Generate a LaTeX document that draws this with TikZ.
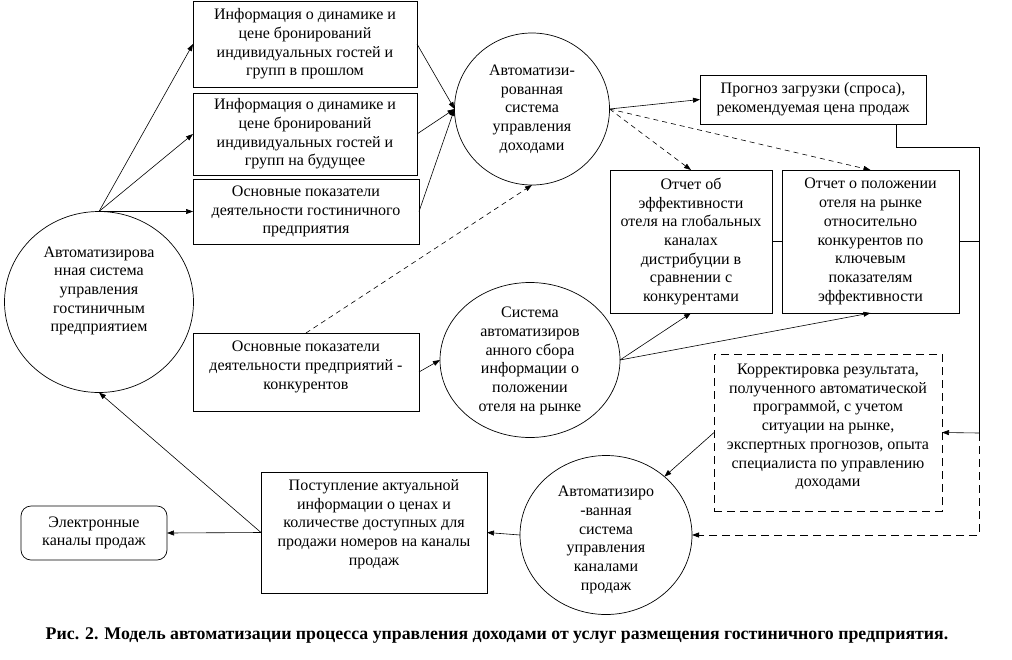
\documentclass[tikz,border=0pt]{standalone}
\usepackage{fontspec}
\setmainfont{Liberation Serif}
\usetikzlibrary{arrows.meta,shapes.geometric}

\begin{document}
\begin{tikzpicture}[x=1pt,y=1pt,yscale=-1,xscale=1,
  every node/.style={font=\fontsize{16pt}{18.7pt}\selectfont, align=center, inner sep=0pt, outer sep=0pt},
  box/.style={draw, line width=0.7pt},
  oval/.style={draw, ellipse, line width=0.7pt},
  arr/.style={line width=0.6pt, -{Triangle[length=7pt,width=5pt]}},
  dashthin/.style={dash pattern=on 5pt off 4pt},
  dashwide/.style={dash pattern=on 8pt off 5pt},
]
\useasboundingbox (0,0) rectangle (1012,659);

%Shape: Ellipse [hotel management system]
\node[oval, minimum width=189pt, minimum height=181pt] (c0) at (99,302) {};
\node (t0) at (99,291) {Автоматизирова\\нная система\\управления\\гостиничным\\предприятием};
%Shape: Ellipse [revenue management system]
\node[oval, minimum width=155pt, minimum height=152pt] (c1) at (532,109) {};
\node (t1) at (532,109) {Автоматизи-\\рованная\\система\\управления\\доходами};
%Shape: Ellipse [market data collection]
\node[oval, minimum width=180pt, minimum height=155pt] (c2) at (530,360) {};
\node (t2) at (530,361) {Система\\автоматизиров\\анного сбора\\информации о\\положении\\отеля на рынке};
%Shape: Ellipse [channel management system]
\node[oval, minimum width=172pt, minimum height=159pt] (c3) at (606,535) {};
\node (t3) at (606,540) {Автоматизиро\\-ванная\\система\\управления\\каналами\\продаж};

%Shape: Rectangle
\node[box, minimum width=224pt, minimum height=86pt] (b1) at (305,44) {Информация о динамике и\\цене бронирований\\индивидуальных гостей и\\групп в прошлом};
%Shape: Rectangle
\node[box, minimum width=224pt, minimum height=82pt] (b2) at (305,134) {Информация о динамике и\\цене бронирований\\индивидуальных гостей и\\групп на будущее};
%Shape: Rectangle
\node[box, minimum width=226pt, minimum height=65pt] (b3) at (306,211.5) {Основные показатели\\деятельности гостиничного\\предприятия};
%Shape: Rectangle
\node[box, minimum width=226pt, minimum height=78pt] (b4) at (306,372) {};
\node (t4) at (306,367) {Основные показатели\\деятельности предприятий -\\конкурентов};
%Shape: Rectangle
\node[box, minimum width=226pt, minimum height=49pt] (fc) at (813,99.5) {Прогноз загрузки (спроса),\\рекомендуемая цена продаж};
%Shape: Rectangle
\node[box, minimum width=162pt, minimum height=143pt] (o1) at (691,241.5) {Отчет об\\эффективности\\отеля на глобальных\\каналах\\дистрибуции в\\сравнении с\\конкурентами};
%Shape: Rectangle
\node[box, minimum width=177pt, minimum height=143pt] (o2) at (870.5,241.5) {Отчет о положении\\отеля на рынке\\относительно\\конкурентов по\\ключевым\\показателям\\эффективности};
%Shape: Rectangle [dashed]
\node[box, dashwide, line width=0.8pt, minimum width=228pt, minimum height=157pt] (kor) at (828,432.5) {};
\node (t5) at (828,427) {Корректировка результата,\\полученного автоматической\\программой, с учетом\\ситуации на рынке,\\экспертных прогнозов, опыта\\специалиста по управлению\\доходами};
%Shape: Rectangle
\node[box, minimum width=226pt, minimum height=121pt] (b5) at (374,532.5) {};
\node (t6) at (374,524) {Поступление актуальной\\информации о ценах и\\количестве доступных для\\продажи номеров на каналы\\продаж};
%Shape: Rounded Rectangle
\node[box, rounded corners=10pt, minimum width=146pt, minimum height=54pt] (b6) at (94,533) {Электронные\\каналы продаж};

%Straight Lines
\draw[arr] (c0.north) -- (b1.west);
\draw[arr] (c0.north) -- (b2.west);
\draw[arr] (c0.north) -- (b3.west);
\draw[arr] (b1.east) -- (c1.west);
\draw[arr] (b2.east) -- (c1.west);
\draw[arr] (b3.east) -- (c1.west);
\draw[arr] (c1.east) -- (fc.west);
\draw[arr, dashthin] (c1.east) -- (o1.north);
\draw[arr, dashthin] (c1.east) -- (o2.north);
\draw[arr, dashthin] (b4.north) -- (c1.south);
\draw[arr] (b4.east) -- (c2.west);
\draw[arr] (c2.east) -- (o1.south);
\draw[arr] (c2.east) -- (o2.south);

%Feedback line on the right
\coordinate (r1) at (979,147);
\coordinate (r2) at (979,433);
\coordinate (r3) at (979,535);
\draw[line width=0.7pt] (fc.south) -- ([xshift=-30pt]fc.south east) |- (r1) -- (r2);
\draw[line width=0.6pt] (o1.east) -- (o2.west);
\draw[line width=0.6pt] (o2.east) -- (o2.east -| r1);
\draw[arr] (r2) -- (kor.east);
\draw[arr, dashwide, line width=0.8pt] (r2) -- (r3) -- (c3.east);

%Straight Lines [bottom]
\draw[arr] (kor.west) -- (c3.45);
\draw[arr] (c3.west) -- (b5.east);
\draw[arr] (b5.west) -- (b6.east);
\draw[arr] (b5.west) -- (c0.south);

% Text Node
\node[font=\bfseries\fontsize{17.8pt}{20pt}\selectfont] (cap) at (497,636) {Рис. 2. Модель автоматизации процесса управления доходами от услуг размещения гостиничного предприятия.};
\end{tikzpicture}
\end{document}
